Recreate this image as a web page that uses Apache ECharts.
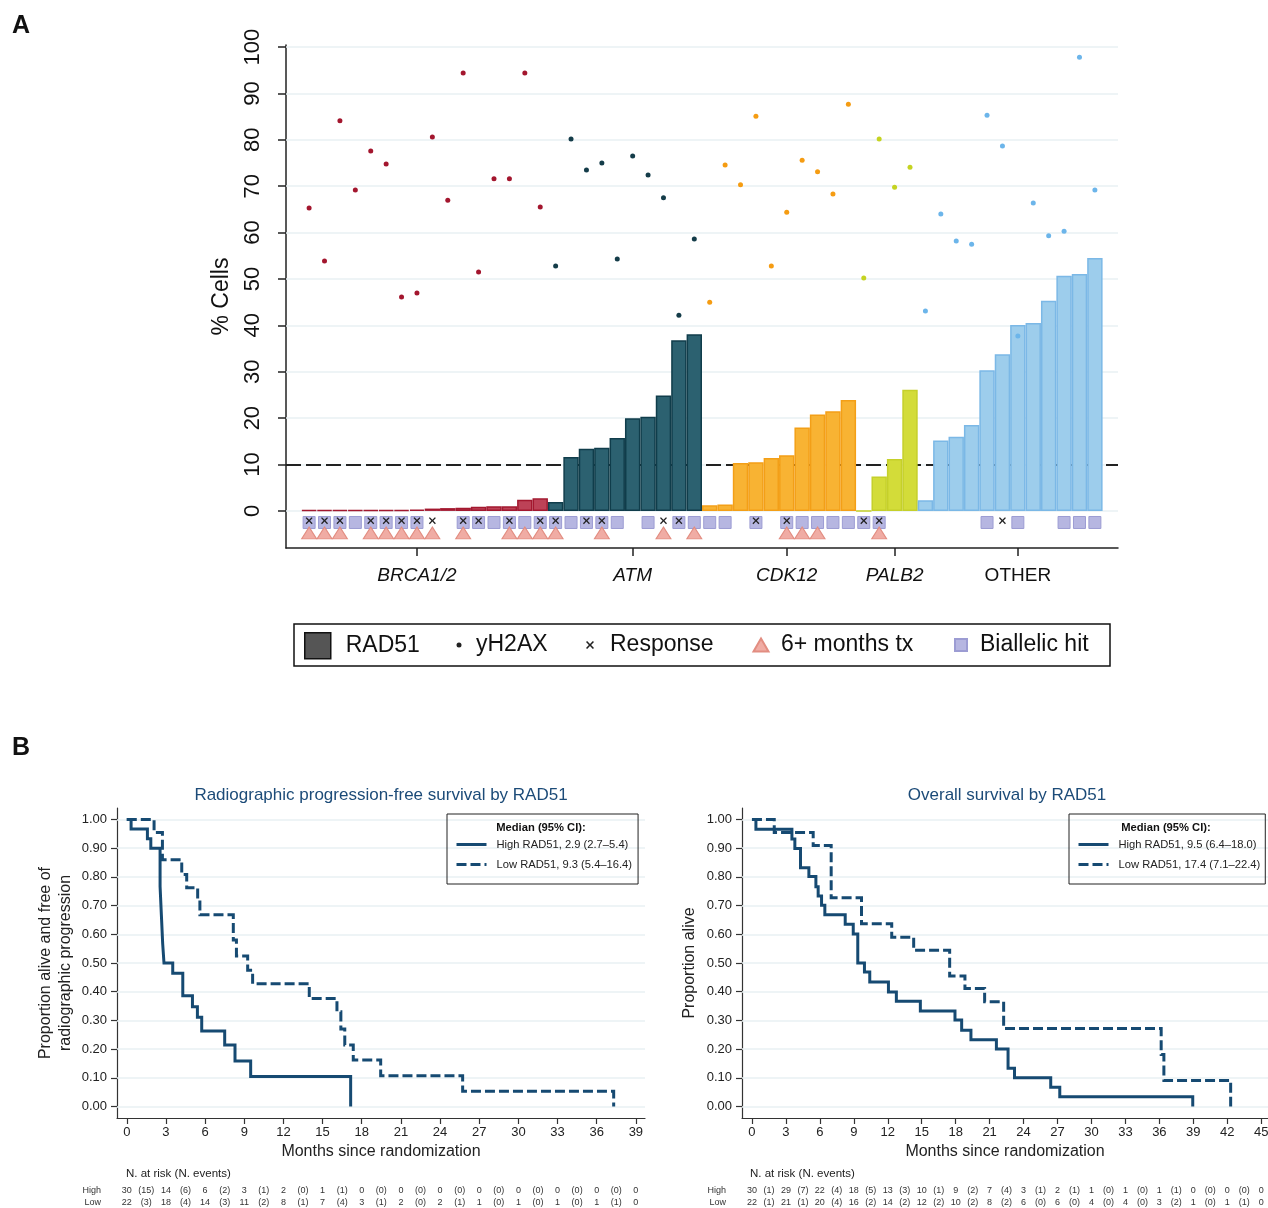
<!DOCTYPE html>
<html>
<head>
<meta charset="utf-8">
<script src="https://cdn.jsdelivr.net/npm/echarts@6/dist/echarts.min.js"></script>
<style>
  html, body { margin: 0; padding: 0; background: #ffffff; }
  #chart { width: 1268px; height: 1208px; }
</style>
</head>
<body>
<div id="chart"></div>
<script>
const FONT = '"Liberation Sans", Arial, Helvetica, sans-serif';

// ---------- Panel A: RAD51 / yH2AX scores (% cells) per patient, grouped by gene ----------
const geneGroups = ['BRCA1/2', 'ATM', 'CDK12', 'PALB2', 'OTHER'];
const rad51BRCA  = [0.2, 0.2, 0.2, 0.2, 0.2, 0.2, 0.2, 0.3, 0.5, 0.6, 0.7, 0.9, 1.0, 1.0, 2.4, 2.7];
const rad51ATM   = [1.9, 11.6, 13.4, 13.6, 15.7, 20.0, 20.3, 24.9, 36.8, 38.1];
const rad51CDK12 = [1.2, 1.4, 10.3, 10.5, 11.4, 12.0, 18.0, 20.8, 21.5, 23.9];
const rad51PALB2 = [0, 7.4, 11.2, 26.1];
const rad51OTHER = [2.3, 15.2, 16.0, 18.5, 30.3, 33.8, 40.1, 40.5, 45.3, 50.7, 51.1, 54.5];
const yh2axBRCA  = [65.3, 53.9, 84.1, 69.2, 77.6, 74.8, 46.1, 47.0, 80.6, 67.0, 94.4, 51.5, 71.6, 71.6, 94.4, 65.5];
const yh2axATM   = [52.8, 80.2, 73.5, 75.0, 54.3, 76.5, 72.4, 67.5, 42.2, 58.6];
const yh2axCDK12 = [45.0, 74.6, 70.3, 85.1, 52.8, 64.4, 75.6, 73.1, 68.3, 87.7];
const yh2axPALB2 = [50.2, 80.2, 69.8, 74.1];
const yh2axOTHER = [43.1, 64.0, 58.2, 57.5, 85.3, 78.7, 37.7, 66.4, 59.3, 60.3, 97.8, 69.2];
// patients (0-based, left to right) carrying each annotation
const responders   = [0, 1, 2, 4, 5, 6, 7, 8, 10, 11, 13, 15, 16, 18, 19, 23, 24, 29, 31, 36, 37, 45];
const sixMonthsTx  = [0, 1, 2, 4, 5, 6, 7, 8, 10, 13, 14, 15, 16, 19, 23, 25, 31, 32, 33, 37];
const biallelicHit = [0, 1, 2, 3, 4, 5, 6, 7, 10, 11, 12, 13, 14, 15, 16, 17, 18, 19, 20, 22, 24, 25,
                      26, 27, 29, 31, 32, 33, 34, 35, 36, 37, 44, 46, 49, 50, 51];
// patient within each gene group that carries the group's axis label
const groupLabelSlot = [7, 5, 5, 2, 6];
const yTicksA = [0, 10, 20, 30, 40, 50, 60, 70, 80, 90, 100];
const thresholdA = 10;

// ---------- Panel B: Kaplan-Meier steps, [months, proportion after the drop] ----------
const pfsHigh = [[0, 1], [0.33, 0.967], [1.58, 0.933], [1.84, 0.9], [2.55, 0.767], [2.65, 0.667],
  [2.75, 0.567], [2.85, 0.5], [3.52, 0.464], [4.29, 0.386], [5.03, 0.348], [5.41, 0.311],
  [5.74, 0.263], [7.5, 0.214], [8.29, 0.159], [9.49, 0.105], [17.15, 0]];
const pfsLow = [[0, 1], [2.09, 0.955], [2.73, 0.86], [4.21, 0.808], [4.59, 0.762], [5.43, 0.72],
  [5.6, 0.668], [8.16, 0.58], [8.4, 0.524], [9.26, 0.475], [9.64, 0.428], [13.98, 0.376],
  [16.1, 0.33], [16.4, 0.27], [16.7, 0.214], [17.35, 0.162], [19.45, 0.107], [25.73, 0.053], [37.3, 0]];
const osHigh = [[0, 1], [0.35, 0.966], [3.53, 0.932], [3.79, 0.899], [4.29, 0.832], [5.03, 0.801],
  [5.65, 0.766], [5.85, 0.733], [6.15, 0.701], [6.44, 0.668], [8.24, 0.635], [8.95, 0.601],
  [9.35, 0.5], [9.94, 0.469], [10.41, 0.434], [12.06, 0.399], [12.76, 0.367], [14.88, 0.333],
  [17.94, 0.301], [18.53, 0.266], [19.35, 0.233], [21.6, 0.2], [22.63, 0.133], [23.2, 0.1],
  [26.4, 0.067], [27.2, 0.034], [38.95, 0]];
const osLow = [[0, 1], [1.97, 0.955], [5.41, 0.909], [7.0, 0.727], [9.68, 0.637], [12.35, 0.59],
  [14.29, 0.544], [17.47, 0.455], [18.82, 0.411], [20.56, 0.365], [22.24, 0.272], [36.16, 0.181],
  [36.4, 0.091], [42.3, 0]];

const pfsTicks = [0, 3, 6, 9, 12, 15, 18, 21, 24, 27, 30, 33, 36, 39];
const osTicks  = [0, 3, 6, 9, 12, 15, 18, 21, 24, 27, 30, 33, 36, 39, 42, 45];
const propTicks = [0, 0.1, 0.2, 0.3, 0.4, 0.5, 0.6, 0.7, 0.8, 0.9, 1.0];

// numbers at risk at each tick and events within each interval
const pfsAtRiskHigh = [30, 14, 6, 3, 2, 1, 0, 0, 0, 0, 0, 0, 0, 0];
const pfsEventsHigh = [15, 6, 2, 1, 0, 1, 0, 0, 0, 0, 0, 0, 0];
const pfsAtRiskLow  = [22, 18, 14, 11, 8, 7, 3, 2, 2, 1, 1, 1, 1, 0];
const pfsEventsLow  = [3, 4, 3, 2, 1, 4, 1, 0, 1, 0, 0, 0, 1];
const osAtRiskHigh  = [30, 29, 22, 18, 13, 10, 9, 7, 3, 2, 1, 1, 1, 0, 0, 0];
const osEventsHigh  = [1, 7, 4, 5, 3, 1, 2, 4, 1, 1, 0, 0, 1, 0, 0];
const osAtRiskLow   = [22, 21, 20, 16, 14, 12, 10, 8, 6, 6, 4, 4, 3, 1, 1, 0];
const osEventsLow   = [1, 1, 4, 2, 2, 2, 2, 2, 0, 0, 0, 0, 2, 0, 1];

const pfsNames = ['High RAD51, 2.9 (2.7\u20135.4)', 'Low RAD51, 9.3 (5.4\u201316.4)'];
const osNames  = ['High RAD51, 9.5 (6.4\u201318.0)', 'Low RAD51, 17.4 (7.1\u201322.4)'];

// ---------- styles ----------
const groupStyle = [
  { fill: '#bd4257', edge: '#a3182f', dot: '#a3162e' },
  { fill: '#2c6170', edge: '#103d4b', dot: '#143c49' },
  { fill: '#f8b333', edge: '#f39f17', dot: '#f59c12' },
  { fill: '#d3dc39', edge: '#c5d02a', dot: '#c5d321' },
  { fill: '#9dcdec', edge: '#7bb8e6', dot: '#6cb5ea' }
];
const KM_COLOR = '#164a72';
const KM_TITLE = '#1c4b78';
const GRID_LINE = '#e8f0f3';
const ROW_CROSS = -2.1, ROW_SQUARE = -2.5, ROW_TRI = -4.75;
const CROSS_PATH = 'path://M0,1.4L1.4,0L5,3.6L8.6,0L10,1.4L6.4,5L10,8.6L8.6,10L5,6.4L1.4,10L0,8.6L3.6,5Z';

// ---------- assemble panel A ----------
const radGroups = [rad51BRCA, rad51ATM, rad51CDK12, rad51PALB2, rad51OTHER];
const yhGroups = [yh2axBRCA, yh2axATM, yh2axCDK12, yh2axPALB2, yh2axOTHER];
const categories = ['start'];
const barData = ['-'];
const dotData = [];
const labelAt = {};
let k = 0;
radGroups.forEach((vals, g) => {
  vals.forEach((v, j) => {
    const slot = k + 1;
    categories.push('pt' + slot);
    barData.push({ value: v, itemStyle: { color: groupStyle[g].fill, borderColor: groupStyle[g].edge } });
    dotData.push({ value: [slot, yhGroups[g][j]], itemStyle: { color: groupStyle[g].dot } });
    if (j === groupLabelSlot[g]) labelAt[slot] = geneGroups[g];
    k++;
  });
});
categories.push('end');
barData.push('-');
const showAt = (i) => labelAt[i] !== undefined;

// ---------- helpers for panel B ----------
function halfSteps(ticks) {
  const out = [];
  ticks.forEach((t, i) => { out.push(t); if (i < ticks.length - 1) out.push(t + 1.5); });
  return out;
}
function riskAxis(grid, min, max, ticks, atRisk, events, offset) {
  return {
    type: 'value', gridIndex: grid, min: min, max: max, position: 'bottom', offset: offset,
    axisLine: { show: false, onZero: false }, axisTick: { show: false }, splitLine: { show: false },
    axisLabel: {
      customValues: halfSteps(ticks), margin: 0, fontSize: 9, color: '#333', fontFamily: FONT,
      formatter: (v) => {
        const h = Math.round(v / 1.5);
        return h % 2 === 0 ? String(atRisk[h / 2]) : '(' + events[(h - 1) / 2] + ')';
      }
    }
  };
}
function kmXAxis(grid, min, max, ticks) {
  return {
    type: 'value', gridIndex: grid, min: min, max: max, position: 'bottom',
    name: 'Months since randomization', nameLocation: 'middle', nameGap: 26,
    nameTextStyle: { fontSize: 16, color: '#222', fontFamily: FONT },
    axisLine: { show: true, onZero: false, lineStyle: { color: '#333', width: 1.2 } },
    axisTick: { show: true, customValues: ticks, length: 6, lineStyle: { color: '#333', width: 1.2 } },
    axisLabel: { customValues: ticks, margin: 8, fontSize: 13, color: '#222', fontFamily: FONT },
    splitLine: { show: false }
  };
}
function kmYAxis(grid, name, gap) {
  return {
    type: 'value', gridIndex: grid, min: -0.04, max: 1.04,
    name: name, nameLocation: 'middle', nameGap: gap,
    nameTextStyle: { fontSize: 16, lineHeight: 20, color: '#222', fontFamily: FONT },
    axisLine: { show: true, onZero: false, lineStyle: { color: '#333', width: 1.2 } },
    axisTick: { show: true, customValues: propTicks, length: 6, lineStyle: { color: '#333', width: 1.2 } },
    axisLabel: { customValues: propTicks, margin: 10, fontSize: 13, color: '#222', fontFamily: FONT,
      formatter: (v) => v.toFixed(2) },
    splitLine: { show: false }
  };
}
function kmSeries(name, pts, xi, yi, dashed, withGrid) {
  const s = {
    name: name, type: 'line', xAxisIndex: xi, yAxisIndex: yi, data: pts, step: 'end',
    symbol: 'none', showSymbol: false, silent: true, z: 3,
    itemStyle: { color: KM_COLOR },
    lineStyle: { color: KM_COLOR, width: 3, type: dashed ? [10, 4] : 'solid', cap: 'butt', join: 'miter' }
  };
  if (withGrid) {
    s.markLine = {
      silent: true, z: 1, symbol: ['none', 'none'], label: { show: false },
      lineStyle: { color: GRID_LINE, width: 1.5, type: 'solid' },
      data: propTicks.map((v) => ({ yAxis: v }))
    };
  }
  return s;
}
function kmLegend(left, names, padRight) {
  return {
    orient: 'vertical', left: left, top: 814, padding: [25, padRight, 14, 8], itemGap: 9,
    itemWidth: 30, itemHeight: 12, borderColor: '#222', borderWidth: 1, selectedMode: false,
    itemStyle: { opacity: 0 },
    lineStyle: { width: 3 },
    textStyle: { fontSize: 11.2, color: '#222', fontFamily: FONT, padding: [0, 0, 0, 5] },
    data: names
  };
}
function legendA(left, top, name, w, h, gap, extra) {
  return Object.assign({
    left: left, top: top, padding: 0, itemWidth: w, itemHeight: h, selectedMode: false,
    textStyle: { fontSize: 23, color: '#111', fontFamily: FONT, padding: [0, 0, 0, gap] },
    data: [name]
  }, extra || {});
}

const option = {
  animation: false,
  backgroundColor: '#ffffff',
  textStyle: { fontFamily: FONT },
  grid: [
    { left: 286, top: 45, width: 832, height: 503, outerBoundsMode: 'none', containLabel: false },
    { left: 117, top: 808, width: 528, height: 310, outerBoundsMode: 'none', containLabel: false },
    { left: 742, top: 808, width: 526, height: 310, outerBoundsMode: 'none', containLabel: false }
  ],
  xAxis: [
    {
      type: 'category', gridIndex: 0, data: categories, boundaryGap: true,
      axisLine: { show: true, onZero: false, lineStyle: { color: '#222', width: 1.5 } },
      axisTick: { show: true, alignWithLabel: true, interval: showAt, length: 8,
        lineStyle: { color: '#222', width: 1.5 } },
      axisLabel: {
        interval: showAt, margin: 18,
        formatter: (v, i) => {
          const lab = labelAt[i];
          return lab === 'OTHER' ? '{plain|' + lab + '}' : '{gene|' + lab + '}';
        },
        rich: {
          gene: { fontSize: 19, fontStyle: 'italic', color: '#111', fontFamily: FONT },
          plain: { fontSize: 19, color: '#111', fontFamily: FONT }
        }
      },
      splitLine: { show: false }
    },
    kmXAxis(1, -0.75, 39.7, pfsTicks),
    riskAxis(1, -0.75, 39.7, pfsTicks, pfsAtRiskHigh, pfsEventsHigh, 68),
    riskAxis(1, -0.75, 39.7, pfsTicks, pfsAtRiskLow, pfsEventsLow, 80),
    kmXAxis(2, -0.88, 45.6, osTicks),
    riskAxis(2, -0.88, 45.6, osTicks, osAtRiskHigh, osEventsHigh, 68),
    riskAxis(2, -0.88, 45.6, osTicks, osAtRiskLow, osEventsLow, 80)
  ],
  yAxis: [
    {
      type: 'value', gridIndex: 0, min: -8, max: 100.45,
      name: '% Cells', nameLocation: 'middle', nameGap: 53,
      nameTextStyle: { fontSize: 23, color: '#111', fontFamily: FONT },
      axisLine: { show: true, onZero: false, lineStyle: { color: '#222', width: 1.5 } },
      axisTick: { show: true, customValues: yTicksA, length: 8, lineStyle: { color: '#222', width: 1.5 } },
      axisLabel: { customValues: yTicksA, rotate: 90, margin: 22, fontSize: 22, color: '#111', fontFamily: FONT },
      splitLine: { show: false }
    },
    kmYAxis(1, 'Proportion alive and free of\nradiographic progression', 41),
    kmYAxis(2, 'Proportion alive', 42)
  ],
  legend: [
    legendA(304, 632, 'RAD51', 26, 26, 10, {
      data: [{ name: 'RAD51', icon: 'rect', itemStyle: { color: '#555555', borderColor: '#111111', borderWidth: 1.5 } }]
    }),
    legendA(456.5, 633.5, 'yH2AX', 5, 5, 9.5),
    legendA(586, 633.5, 'Response', 8, 8, 11),
    legendA(752.5, 633.5, '6+ months tx', 15, 13, 7.5),
    legendA(954, 633.5, 'Biallelic hit', 12, 12, 8),
    kmLegend(447, pfsNames, 6),
    kmLegend(1069, osNames, 5)
  ],
  series: [
    {
      name: 'RAD51', type: 'bar', xAxisIndex: 0, yAxisIndex: 0, data: barData,
      barCategoryGap: '0%', barGap: '0%', silent: true, z: 2,
      itemStyle: { color: '#555555', borderColor: '#111111', borderWidth: 1.5 },
      markLine: {
        silent: true, z: 1, symbol: ['none', 'none'], label: { show: false },
        data: yTicksA.map((v) => ({ yAxis: v, lineStyle: { color: GRID_LINE, width: 1.5, type: 'solid' } }))
          .concat([{ yAxis: thresholdA, lineStyle: { color: '#222', width: 1.8, type: [15, 5] } }])
      }
    },
    {
      name: 'Biallelic hit', type: 'scatter', xAxisIndex: 0, yAxisIndex: 0, silent: true, z: 3,
      symbol: 'rect', symbolSize: 12,
      itemStyle: { color: '#b6b6e1', borderColor: '#9c9cd3', borderWidth: 1, opacity: 1 },
      data: biallelicHit.map((p) => [p + 1, ROW_SQUARE])
    },
    {
      name: 'Response', type: 'scatter', xAxisIndex: 0, yAxisIndex: 0, silent: true, z: 4,
      symbol: CROSS_PATH, symbolSize: 7,
      itemStyle: { color: '#222222', opacity: 1 },
      data: responders.map((p) => [p + 1, ROW_CROSS])
    },
    {
      name: '6+ months tx', type: 'scatter', xAxisIndex: 0, yAxisIndex: 0, silent: true, z: 3,
      symbol: 'triangle', symbolSize: [15, 12],
      itemStyle: { color: '#f0aca4', borderColor: '#e28d81', borderWidth: 1, opacity: 1 },
      data: sixMonthsTx.map((p) => [p + 1, ROW_TRI])
    },
    {
      name: 'yH2AX', type: 'scatter', xAxisIndex: 0, yAxisIndex: 0, silent: true, z: 5,
      symbol: 'circle', symbolSize: 5,
      itemStyle: { color: '#222222', opacity: 1 },
      data: dotData
    },
    kmSeries(pfsNames[0], pfsHigh, 1, 1, false, true),
    kmSeries(pfsNames[1], pfsLow, 1, 1, true, false),
    kmSeries(osNames[0], osHigh, 4, 2, false, true),
    kmSeries(osNames[1], osLow, 4, 2, true, false)
  ],
  graphic: [
    { type: 'text', x: 12, y: 14, style: { text: 'A', fontSize: 25, fontWeight: 'bold', fill: '#111', fontFamily: FONT } },
    { type: 'text', x: 12, y: 736, style: { text: 'B', fontSize: 25, fontWeight: 'bold', fill: '#111', fontFamily: FONT } },
    { type: 'rect', shape: { x: 294, y: 624, width: 816, height: 42 },
      style: { fill: 'none', stroke: '#111', lineWidth: 1.5 }, silent: true },
    { type: 'text', x: 381, y: 795, style: { text: 'Radiographic progression-free survival by RAD51', fontSize: 17,
      fill: KM_TITLE, fontFamily: FONT, align: 'center', verticalAlign: 'middle' } },
    { type: 'text', x: 1007, y: 795, style: { text: 'Overall survival by RAD51', fontSize: 17,
      fill: KM_TITLE, fontFamily: FONT, align: 'center', verticalAlign: 'middle' } },
    { type: 'text', x: 541, y: 828, style: { text: 'Median (95% CI):', fontSize: 11.2, fontWeight: 'bold',
      fill: '#111', fontFamily: FONT, align: 'center', verticalAlign: 'middle' } },
    { type: 'text', x: 1166, y: 828, style: { text: 'Median (95% CI):', fontSize: 11.2, fontWeight: 'bold',
      fill: '#111', fontFamily: FONT, align: 'center', verticalAlign: 'middle' } },
    { type: 'text', x: 126, y: 1174, style: { text: 'N. at risk (N. events)', fontSize: 11.5,
      fill: '#222', fontFamily: FONT, align: 'left', verticalAlign: 'middle' } },
    { type: 'text', x: 750, y: 1174, style: { text: 'N. at risk (N. events)', fontSize: 11.5,
      fill: '#222', fontFamily: FONT, align: 'left', verticalAlign: 'middle' } },
    { type: 'text', x: 101, y: 1191, style: { text: 'High', fontSize: 9, fill: '#333', fontFamily: FONT,
      align: 'right', verticalAlign: 'middle' } },
    { type: 'text', x: 101, y: 1203, style: { text: 'Low', fontSize: 9, fill: '#333', fontFamily: FONT,
      align: 'right', verticalAlign: 'middle' } },
    { type: 'text', x: 726, y: 1191, style: { text: 'High', fontSize: 9, fill: '#333', fontFamily: FONT,
      align: 'right', verticalAlign: 'middle' } },
    { type: 'text', x: 726, y: 1203, style: { text: 'Low', fontSize: 9, fill: '#333', fontFamily: FONT,
      align: 'right', verticalAlign: 'middle' } }
  ]
};

const chart = echarts.init(document.getElementById('chart'), null, { renderer: 'canvas', width: 1268, height: 1208 });
chart.setOption(option);
</script>
</body>
</html>
